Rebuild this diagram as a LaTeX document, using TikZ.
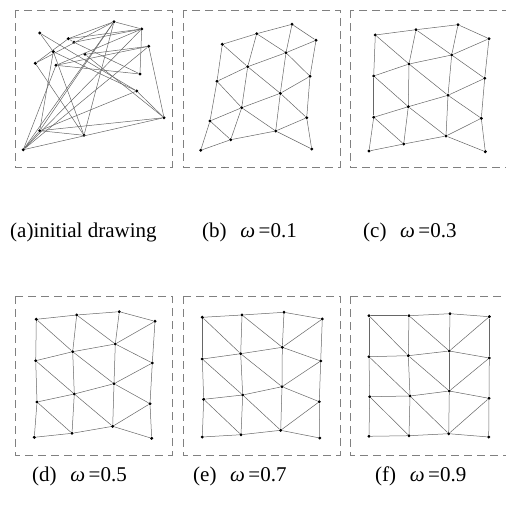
\documentclass[tikz,border=0pt]{standalone}
\usepackage{fontspec}
\setmainfont{Liberation Serif}
\usepackage{tikz}
\tikzset{
  vtx/.style={circle, fill=black, inner sep=0pt, minimum size=3.3pt},
  meshedge/.style={draw=black!60, line width=0.5pt},
  panelbox/.style={draw=black!50, line width=0.7pt, dash pattern=on 8pt off 5pt},
  caption/.style={anchor=west, inner sep=0pt, font=\fontsize{21}{25}\selectfont},
}
% one mesh panel: #1 name prefix, #2 list of col/row/x/y
\newcommand{\meshpanel}[2]{%
  \foreach \ci/\ri/\px/\py in {#2}
    \node[vtx] (#1\ci\ri) at (\px,\py) {};
  \foreach \ri in {0,1,2,3}
    \foreach \ci in {0,1,2} {
      \pgfmathtruncatemacro{\cn}{\ci+1}
      \draw[meshedge] (#1\ci\ri) -- (#1\cn\ri);
    }
  \foreach \ri in {0,1,2} {
    \pgfmathtruncatemacro{\rn}{\ri+1}
    \foreach \ci in {0,1,2,3}
      \draw[meshedge] (#1\ci\ri) -- (#1\ci\rn);
    \draw[meshedge] (#10\ri) -- (#11\rn);
    \draw[meshedge] (#11\ri) -- (#12\rn);
    \draw[meshedge] (#13\ri) -- (#12\rn);
  }
}
\newcommand{\omg}{\textit{ω}}

\begin{document}
\begin{tikzpicture}[x=1pt, y=-1pt]
  \useasboundingbox (0,0) rectangle (506,506);

  % --- dashed frames ---
  \draw[panelbox] (15,10) rectangle (172,167);
  \draw[panelbox] (183,10) rectangle (340,167);
  \draw[panelbox] (350,10) rectangle (507,167);
  \draw[panelbox] (15,296) rectangle (172,455);
  \draw[panelbox] (183,296) rectangle (340,455);
  \draw[panelbox] (350,296) rectangle (507,455);

  % --- (a) initial drawing ---
  \meshpanel{a}{0/0/35.3/63.3, 1/0/68.3/38.7, 2/0/74/42.3, 3/0/140/74,
    0/1/84/135.3, 1/1/114/21.7, 2/1/141.7/29, 3/1/56/65.3,
    0/2/53.3/51.7, 1/2/39.7/130.7, 2/2/23.3/149.7, 3/2/148.7/46.3,
    0/3/39.7/33, 1/3/136.7/91, 2/3/164/117.7, 3/3/85/54.3}

  % --- (b) ---
  \meshpanel{b}{0/0/222.3/44.3, 1/0/256.7/33.7, 2/0/292/24.3, 3/0/316/40.3,
    0/1/217/81.3, 1/1/247.7/66.7, 2/1/286/52.7, 3/1/310/76.3,
    0/2/210/121, 1/2/241.7/107.7, 2/2/280.3/93.3, 3/2/306.7/117.7,
    0/3/200.7/150.3, 1/3/230.7/139.7, 2/3/275.7/131, 3/3/311.7/149}

  % --- (c) ---
  \meshpanel{c}{0/0/375.3/35, 1/0/416/29.7, 2/0/458/24.7, 3/0/489/38.7,
    0/1/373.7/76, 1/1/409/64, 2/1/451.7/55, 3/1/484.7/78.3,
    0/2/373.7/117.3, 1/2/408.3/106.7, 2/2/448/95.3, 3/2/481.3/118.3,
    0/3/369/151, 1/3/403.7/144, 2/3/446/136, 3/3/485.3/151.7}

  % --- (d) ---
  \meshpanel{d}{0/0/36.3/319.3, 1/0/76.7/315, 2/0/119.3/311.7, 3/0/155/321.3,
    0/1/35.7/360.7, 1/1/72.7/351.7, 2/1/115.3/344, 3/1/152.3/363,
    0/2/37/402, 1/2/74.3/394, 2/2/114/383.7, 3/2/150/403.7,
    0/3/34.3/437.3, 1/3/72/433.3, 2/3/112.7/426.3, 3/3/151.7/438.3}

  % --- (e) ---
  \meshpanel{e}{0/0/202.3/317.3, 1/0/242/315, 2/0/284/312.3, 3/0/322.3/319,
    0/1/202.3/359, 1/1/240.7/353.7, 2/1/282.3/347.3, 3/1/320.7/361,
    0/2/203.7/399.3, 1/2/242.7/395, 2/2/282/386.7, 3/2/319.3/401.7,
    0/3/202.3/437, 1/3/241/434.7, 2/3/280.7/430.3, 3/3/319.7/438}

  % --- (f) ---
  \meshpanel{f}{0/0/369/315.7, 1/0/409/315.7, 2/0/450/313.7, 3/0/489.3/316.7,
    0/1/369/356.7, 1/1/408.3/355.7, 2/1/449.3/351, 3/1/489.3/358,
    0/2/369.7/396.7, 1/2/410/396, 2/2/449.3/391, 3/2/489/398.3,
    0/3/369/436.3, 1/3/409/435.7, 2/3/448.7/433.7, 3/3/488.7/437}

  % --- captions ---
  \node[caption] (capa) at (10,232) {(a)initial drawing};
  \node[caption] (capb) at (202,232) {(b)\hspace{0.65em}\omg\,=0.1};
  \node[caption] (capc) at (363,232) {(c)\hspace{0.65em}\omg\,=0.3};
  \node[caption] (capd) at (32,476) {(d)\hspace{0.65em}\omg\,=0.5};
  \node[caption] (cape) at (193,476) {(e)\hspace{0.65em}\omg\,=0.7};
  \node[caption] (capf) at (375,476) {(f)\hspace{0.65em}\omg\,=0.9};
\end{tikzpicture}
\end{document}
